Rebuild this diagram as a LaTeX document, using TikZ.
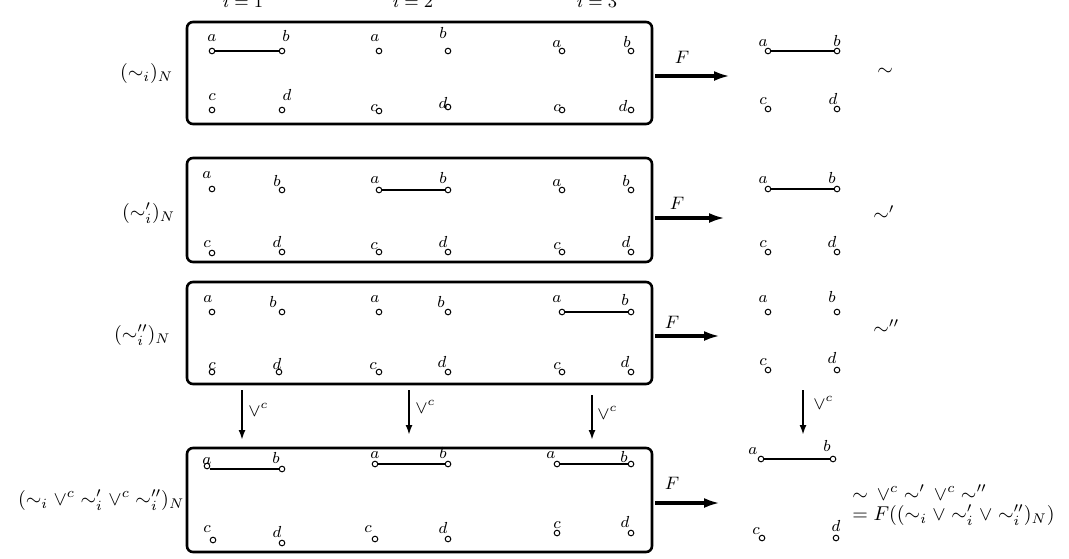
\documentclass[tikz,border=0pt]{standalone}
\usetikzlibrary{arrows.meta}

\begin{document}
\begin{tikzpicture}[x=0.5pt, y=-0.5pt,
    vtx/.style={circle, draw, line width=0.5pt, minimum size=2.8pt, inner sep=0pt},
    lbl/.style={font=\footnotesize, anchor=base, inner sep=0pt},
    link/.style={line width=1pt},
    panel/.style={draw, line width=1.3pt, rounded corners=3pt, minimum width=232.5pt},
    farrow/.style={-{Latex[length=8pt,width=5pt]}, line width=1.6pt},
    varrow/.style={-{Latex[length=5pt,width=3.5pt]}, line width=1.1pt}
]
\useasboundingbox (0,0) rectangle (1069,558);

% panels
\node[panel, minimum height=51pt] (box1) at (419.5,73) {};
\node[panel, minimum height=52pt] (box2) at (419.5,210) {};
\node[panel, minimum height=51pt] (box3) at (419.5,333) {};
\node[panel, minimum height=52pt] (box4) at (419.5,500) {};

% column headers
\node[font=\small, anchor=base] (i1) at (243,7) {$i=1$};
\node[font=\small, anchor=base] (i2) at (413,7) {$i=2$};
\node[font=\small, anchor=base] (i3) at (597,7) {$i=3$};

% row names
\node[anchor=base west] (n1) at (113,78) {$(\sim_i)_N$};
\node[anchor=base west] (n2) at (115,218) {$(\sim'_i)_N$};
\node[anchor=base west] (n3) at (107,340) {$(\sim''_i)_N$};
\node[anchor=base west] (n4) at (11,505) {$(\sim_i \mathbin{\vee^c} \sim'_i \mathbin{\vee^c} \sim''_i)_N$};

% vertices
\foreach \n/\x/\y in {11a/212/51, 11b/282/51, 11c/212/110, 11d/282/110,
    12a/379/51, 12b/448/51, 12c/379/111, 12d/448/107,
    13a/562/51, 13b/631/51, 13c/562/110, 13d/631/110,
    1Ra/768/51, 1Rb/837/51, 1Rc/768/109, 1Rd/837/109,
    21a/212/189, 21b/282/190, 21c/212/253, 21d/282/252,
    22a/379/190, 22b/448/190, 22c/379/252, 22d/448/252,
    23a/562/190, 23b/631/190, 23c/562/252, 23d/631/252,
    2Ra/768/189, 2Rb/837/189, 2Rc/768/252, 2Rd/837/252,
    31a/212/312, 31b/282/312, 31c/212/372, 31d/279/372,
    32a/379/312, 32b/448/312, 32c/379/372, 32d/448/372,
    33a/562/312, 33b/631/312, 33c/562/372, 33d/631/372,
    3Ra/768/312, 3Rb/837/312, 3Rc/768/370, 3Rd/837/370,
    41a/207/466, 41b/282/469, 41c/213/540, 41d/282/543,
    42a/375/464, 42b/448/464, 42c/375/539, 42d/448/539,
    43a/557/464, 43b/631/464, 43c/557/533, 43d/631/533,
    4Ra/761/459, 4Rb/833/459, 4Rc/762/538, 4Rd/836/538}
  \node[vtx] (\n) at (\x,\y) {};

% vertex names
\foreach \n/\x/\y/\t in {11a/212/41/a, 11b/286/41/b, 11c/212/100/c, 11d/287/100/d,
    12a/375/41/a, 12b/443/38/b, 12c/374/111/c, 12d/443/108/d,
    13a/557/47/a, 13b/627/47/b, 13c/557/111/c, 13d/623/111/d,
    1Ra/763/46/a, 1Rb/837/46/b, 1Rc/763/104/c, 1Rd/833/104/d,
    21a/207/178/a, 21b/277/186/b, 21c/207/247/c, 21d/277/247/d,
    22a/375/183/a, 22b/443/183/b, 22c/374/249/c, 22d/443/247/d,
    23a/557/186/a, 23b/626/186/b, 23c/557/249/c, 23d/626/247/d,
    2Ra/763/183/a, 2Rb/832/183/b, 2Rc/763/247/c, 2Rd/832/247/d,
    31a/208/302/a, 31b/273/307/b, 31c/212/369/c, 31d/277/369/d,
    32a/375/302/a, 32b/441/307/b, 32c/373/369/c, 32d/442/367/d,
    33a/557/302/a, 33b/625/305/b, 33c/557/369/c, 33d/625/367/d,
    3Ra/763/302/a, 3Rb/832/302/b, 3Rc/763/365/c, 3Rd/832/363/d,
    41a/207/464/a, 41b/276/463/b, 41c/207/532/c, 41d/277/537/d,
    42a/375/458/a, 42b/443/458/b, 42c/368/532/c, 42d/443/533/d,
    43a/551/458/a, 43b/624/462/b, 43c/557/528/c, 43d/625/527/d,
    4Ra/753/454/a, 4Rb/827/451/b, 4Rc/756/534/c, 4Rd/836/531/d}
  \node[lbl] (l\n) at (\x,\y) {$\t$};

% related pairs
\draw[link] (11a) -- (11b);
\draw[link] (1Ra) -- (1Rb);
\draw[link] (22a) -- (22b);
\draw[link] (2Ra) -- (2Rb);
\draw[link] (33a) -- (33b);
\draw[link] (41b -| 41a.east) -- (41b);
\draw[link] (42a) -- (42b);
\draw[link] (43a) -- (43b);
\draw[link] (4Ra) -- (4Rb);

% F maps
\coordinate (f1s) at (655,76);  \coordinate (f1e) at (730,76);
\coordinate (f2s) at (655,218); \coordinate (f2e) at (725,218);
\coordinate (f3s) at (655,336); \coordinate (f3e) at (720,336);
\coordinate (f4s) at (655,503); \coordinate (f4e) at (720,503);
\draw[farrow] (f1s) -- (f1e);
\draw[farrow] (f2s) -- (f2e);
\draw[farrow] (f3s) -- (f3e);
\draw[farrow] (f4s) -- (f4e);
\node[font=\small] (F1) at (682,57) {$F$};
\node[font=\small] (F2) at (677,203) {$F$};
\node[font=\small] (F3) at (672,322) {$F$};
\node[font=\small] (F4) at (672,483) {$F$};

% joins
\coordinate (v1s) at (242,390); \coordinate (v1e) at (242,440);
\coordinate (v2s) at (409,390); \coordinate (v2e) at (409,435);
\coordinate (v3s) at (592,395); \coordinate (v3e) at (592,440);
\coordinate (v4s) at (803,390); \coordinate (v4e) at (803,435);
\draw[varrow] (v1s) -- (v1e);
\draw[varrow] (v2s) -- (v2e);
\draw[varrow] (v3s) -- (v3e);
\draw[varrow] (v4s) -- (v4e);
\node[anchor=west, inner sep=0pt, font=\small] (j1) at (248,410) {$\vee^c$};
\node[anchor=west, inner sep=0pt, font=\small] (j2) at (415,407) {$\vee^c$};
\node[anchor=west, inner sep=0pt, font=\small] (j3) at (597,413) {$\vee^c$};
\node[anchor=west, inner sep=0pt, font=\small] (j4) at (813,403) {$\vee^c$};

% resulting relations
\node[anchor=west, inner sep=0pt] (r1) at (877,72) {$\sim$};
\node[anchor=west, inner sep=0pt] (r2) at (873,213) {$\sim'$};
\node[anchor=west, inner sep=0pt] (r3) at (873,327) {$\sim''$};
\node[anchor=base west, inner sep=0pt] (r4) at (852,500) {$\sim\,\vee^c \sim'\,\vee^c \sim''$};
\node[anchor=base west, inner sep=0pt] (r5) at (852,520) {$= F((\sim_i \vee \sim'_i \vee \sim''_i)_N)$};

\end{tikzpicture}
\end{document}
